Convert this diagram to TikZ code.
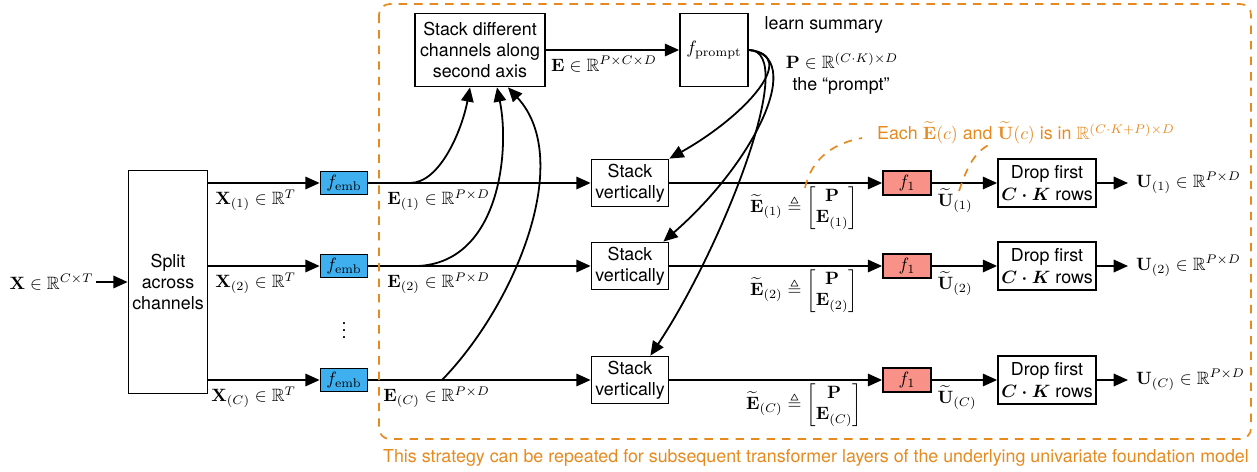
\documentclass[tikz,border=0pt]{standalone}
\usepackage[no-math]{fontspec}
\setmainfont{TeX Gyre Heros}
\usepackage{amsmath}
\usepackage{amssymb}
\usetikzlibrary{arrows.meta,calc,positioning}

\definecolor{annot}{RGB}{230,138,32}
\definecolor{embblue}{RGB}{62,176,240}
\definecolor{fsalmon}{RGB}{248,146,136}
\newcommand{\unitpx}{0.0197cm}

\begin{document}
\begin{tikzpicture}[x=\unitpx, y=-\unitpx, line width=1pt,
    >={Triangle[length=8pt,width=7pt]},
    block/.style={rectangle, draw, align=center, inner sep=1pt},
    emb/.style={rectangle, draw, fill=embblue, inner sep=0pt,
      minimum width=47*\unitpx, minimum height=23*\unitpx},
    fone/.style={rectangle, draw, fill=fsalmon, inner sep=0pt,
      minimum width=48*\unitpx, minimum height=24*\unitpx},
    lbl/.style={inner sep=1pt},
    note/.style={annot, line width=0.95pt, dash pattern=on 4.7pt off 4pt}
    ]
    \useasboundingbox (0,0) rectangle (1257,472);

    % input and split
    \node[lbl, anchor=east] (xin) at (96,282) {$\mathbf{X}\in\mathbb{R}^{C\times T}$};
    \node[block, minimum width=79*\unitpx, minimum height=223*\unitpx] (split) at (168,282)
      {Split\\across\\channels};
    \draw[->] (xin) -- (split);
    \node at (344,325) {$\vdots$};

    % one row per channel
    \foreach \i/\y in {1/183, 2/266, C/380} {
      \node[emb] (emb\i) at (344,\y) {$f_{\mathrm{emb}}$};
      \node[block, minimum width=77*\unitpx, minimum height=47*\unitpx] (sv\i) at (630,\y)
        {Stack\\vertically};
      \node[fone] (fone\i) at (907,\y) {$f_1$};
      \node[block, minimum width=98*\unitpx, minimum height=48*\unitpx] (drop\i) at (1047,\y)
        {Drop first\\$\boldsymbol{C\cdot K}$ rows};
      \node[inner sep=4pt, anchor=west] (u\i) at (1128,\y)
        {$\mathbf{U}_{(\i)}\in\mathbb{R}^{P\times D}$};

      \draw[->] (split.east |- emb\i) -- (emb\i);
      \draw[->] (emb\i) -- (sv\i);
      \draw[->] (sv\i) -- (fone\i);
      \draw[->] (fone\i) -- (drop\i);
      \draw[->] (drop\i) -- (u\i);

      \node[lbl, anchor=north east] (xl\i) at ($(emb\i.west)+(-21,4)$)
        {$\mathbf{X}_{(\i)}\in\mathbb{R}^T$};
      \node[lbl, anchor=north east] (el\i) at ($(emb\i.east)+(124,4)$)
        {$\mathbf{E}_{(\i)}\in\mathbb{R}^{P\times D}$};
      \node[lbl] (et\i) at (804,\y+25)
        {$\widetilde{\mathbf{E}}_{(\i)}\triangleq
          \begin{bmatrix}\mathbf{P}\\ \mathbf{E}_{(\i)}\end{bmatrix}$};
      \node[lbl, anchor=north west] (ut\i) at ($(fone\i.east)+(3,3)$)
        {$\widetilde{\mathbf{U}}_{(\i)}$};
    }

    % stacking all channels and the prompt
    \node[block, minimum width=130*\unitpx, minimum height=73*\unitpx] (stackd) at (480,50)
      {Stack different\\channels along\\second axis};
    \node[block, minimum width=68*\unitpx, minimum height=73*\unitpx] (fprompt) at (714,50)
      {$f_{\mathrm{prompt}}$};
    \draw[->] (stackd) -- (fprompt);
    \node[lbl] (el) at (604,64) {$\mathbf{E}\in\mathbb{R}^{P\times C\times D}$};
    \node[lbl, anchor=west] (learn) at (762,25) {learn summary};
    \node[lbl] (pdim) at (842,61) {$\mathbf{P}\in\mathbb{R}^{(C\cdot K)\times D}$};
    \node[lbl] (ptxt) at (841,86) {the “prompt”};

    \coordinate (tap1) at (410,183);
    \coordinate (tap2) at (418,266);
    \coordinate (tapC) at (442,380);
    \draw[->] (tap1) .. controls (440,183) and (462,130) .. ($(stackd.south)+(-10,0)$);
    \draw[->] (tap2) .. controls (500,262) and (510,150) .. ($(stackd.south)+(17,0)$);
    \draw[->] (tapC) .. controls (515,305) and (575,160) .. ($(stackd.south)+(28,0)$);

    \draw[->] (fprompt.east) .. controls +(52,5) and +(75,-42) .. (sv1.north east);
    \draw[->] (fprompt.east) .. controls +(57,5) and +(93,-81) .. ($(sv2.north east)+(-6,0)$);
    \draw[->] (fprompt.east) .. controls +(52,0) and +(70,-105) .. ($(svC.north east)+(-19,0)$);

    % annotation on the augmented sizes
    \node[annot, inner sep=0pt] (each) at (1026,133)
      {Each $\widetilde{\mathbf{E}}(c)$ and $\widetilde{\mathbf{U}}(c)$ is in
       $\mathbb{R}^{(C\cdot K+P)\times D}$};
    \coordinate (n1) at (862,138);
    \coordinate (n2) at (993,143);
    \draw[note] ($(et1.north)+(1,4)$) .. controls +(7,-31) and +(-27,5) .. (n1);
    \draw[note] ($(ut1.north)+(4,5)$) .. controls +(8,-24) and +(-18,7) .. (n2);

    % repeated block
    \draw[note, rounded corners=6pt] (379,4) rectangle (1251,439);
    \node[annot, inner sep=0pt] (repeat) at (816,458)
      {This strategy can be repeated for subsequent transformer layers of the underlying univariate foundation model};
\end{tikzpicture}
\end{document}
